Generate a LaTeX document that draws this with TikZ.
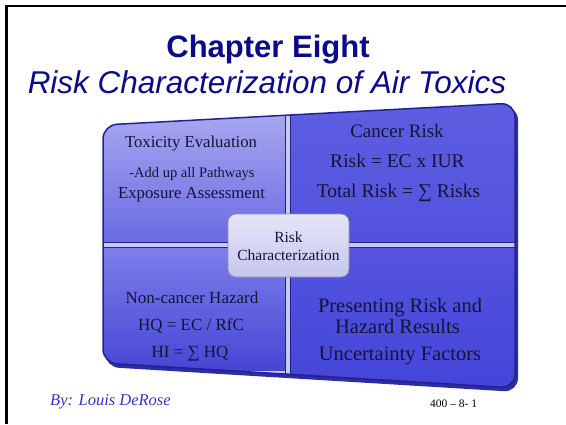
\documentclass[tikz,border=0pt]{standalone}
\usepackage{fontspec}
\setmainfont{Liberation Serif}
\newfontfamily\arialf{Liberation Sans}
\definecolor{titlec}{HTML}{0A0A8C}
\definecolor{txtc}{HTML}{14143A}
\definecolor{edgec}{HTML}{22228E}
\definecolor{depthc}{HTML}{2C2CA8}
\definecolor{gapc}{HTML}{C8C8F2}
\definecolor{authc}{HTML}{3535CC}
\definecolor{tlT}{HTML}{A8A8F0}
\definecolor{tlB}{HTML}{6A6AE4}
\definecolor{trT}{HTML}{5E5EE2}
\definecolor{trB}{HTML}{5252DE}
\definecolor{blT}{HTML}{7E7EEA}
\definecolor{blB}{HTML}{4646D6}
\definecolor{brT}{HTML}{5454E0}
\definecolor{brB}{HTML}{4444D8}
\definecolor{boxT}{HTML}{E6E6F8}
\definecolor{boxB}{HTML}{C6C6EC}
\definecolor{boxE}{HTML}{9090B8}
\tikzset{
  qtext/.style={anchor=base, inner sep=0pt, text=txtc},
  gapline/.style={draw=edgec, line width=1pt},
}
\begin{document}
\begin{tikzpicture}[x=1pt,y=-1pt]
\useasboundingbox (0,0) rectangle (566,424);
\fill[white] (0,0) rectangle (566,424);
% slide frame
\draw[line width=2.5pt, black] (6.5,424) -- (6.5,6) -- (566,6);
% titles
\node[anchor=base, inner sep=0pt, text=titlec, font=\arialf\bfseries\fontsize{31}{31}\selectfont] (title) at (268,57) {Chapter Eight};
\node[anchor=base, inner sep=0pt, text=titlec, font=\arialf\itshape\fontsize{31.5}{31.5}\selectfont] (subtitle) at (267,93) {Risk Characterization of Air Toxics};
% 3D depth
\fill[rounded corners=14pt, depthc] (105,128) -- (518,106) -- (518,392) -- (105,367) -- cycle;
% gap colour
\fill[rounded corners=14pt, gapc] (103,125) -- (515,103) -- (515,388) -- (103,363) -- cycle;
\begin{scope}
\clip[rounded corners=14pt] (103,125) -- (515,103) -- (515,388) -- (103,363) -- cycle;
\shade[top color=tlT, bottom color=tlB] (98,112) rectangle (285.5,242.5);
\shade[top color=trT, bottom color=trB] (290.5,100) rectangle (520,242.5);
\shade[top color=blT, bottom color=blB] (98,247.5) rectangle (285.5,370);
\shade[top color=brT, bottom color=brB] (290.5,247.5) rectangle (520,392);
\draw[gapline] (285.5,90) -- (285.5,242.5) -- (90,242.5);
\draw[gapline] (290.5,90) -- (290.5,242.5) -- (530,242.5);
\draw[gapline] (285.5,400) -- (285.5,247.5) -- (90,247.5);
\draw[gapline] (290.5,400) -- (290.5,247.5) -- (530,247.5);
\end{scope}
\draw[rounded corners=14pt, edgec, line width=1.5pt] (103,125) -- (515,103) -- (515,388) -- (103,363) -- cycle;
% quadrant texts
\node[qtext, font=\fontsize{16.7}{16.7}\selectfont] (tl1) at (191,147) {Toxicity Evaluation};
\node[qtext, font=\fontsize{14.5}{14.5}\selectfont] (tl2) at (192,177) {-Add up all Pathways};
\node[qtext, font=\fontsize{16.8}{16.8}\selectfont] (tl3) at (191.5,198) {Exposure Assessment};
\node[qtext, font=\fontsize{19}{19}\selectfont] (tr1) at (397,137) {Cancer Risk};
\node[qtext, font=\fontsize{19.5}{19.5}\selectfont] (tr2) at (397.5,167) {Risk = EC x IUR};
\node[qtext, font=\fontsize{19.5}{19.5}\selectfont] (tr3) at (398.5,197) {Total Risk = ∑ Risks};
\node[qtext, font=\fontsize{17}{17}\selectfont] (bl1) at (192,303) {Non-cancer Hazard};
\node[qtext, font=\fontsize{17}{17}\selectfont] (bl2) at (191,330) {HQ = EC / RfC};
\node[qtext, font=\fontsize{17}{17}\selectfont] (bl3) at (190,357) {HI = ∑ HQ};
\node[qtext, font=\fontsize{20.5}{20.5}\selectfont] (br1) at (400,312) {Presenting Risk and};
\node[qtext, font=\fontsize{20.5}{20.5}\selectfont] (br2) at (397.5,333) {Hazard Results};
\node[qtext, font=\fontsize{20.5}{20.5}\selectfont] (br3) at (400,360) {Uncertainty Factors};
% centre box
\node[draw=boxE, line width=0.8pt, rounded corners=8pt, top color=boxT, bottom color=boxB, minimum width=121pt, minimum height=63pt, inner sep=0pt] (rcbox) at (288.5,245.5) {};
\node[qtext, font=\fontsize{15.5}{15.5}\selectfont] (rc1) at (288.5,242) {Risk};
\node[qtext, font=\fontsize{15.5}{15.5}\selectfont] (rc2) at (288.5,260) {Characterization};
% footer
\node[anchor=base west, inner sep=0pt, text=authc, font=\itshape\fontsize{16.5}{16.5}\selectfont] (author) at (50,405) {By: Louis DeRose};
\node[anchor=base west, inner sep=0pt, font=\fontsize{11.5}{11.5}\selectfont] (pageno) at (430,407) {400 – 8- 1};
\end{tikzpicture}
\end{document}
